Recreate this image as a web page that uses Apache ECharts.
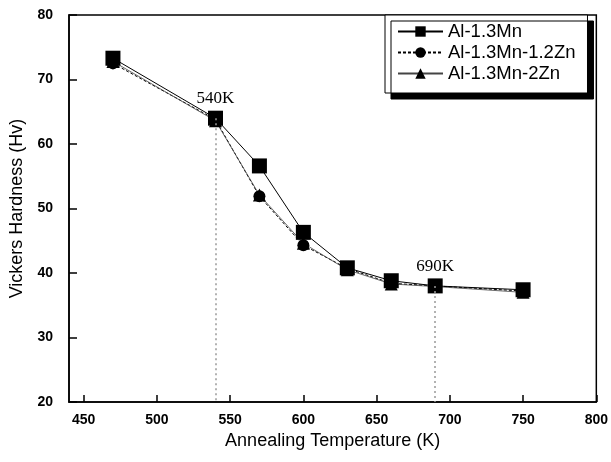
<!DOCTYPE html>
<html>
<head>
<meta charset="utf-8">
<script src="https://cdn.jsdelivr.net/npm/echarts@6/dist/echarts.min.js"></script>
<style>
  html, body { margin: 0; padding: 0; background: #fff; }
  #main { width: 611px; height: 462px; }
</style>
</head>
<body>
<div id="main"></div>
<script>
// annealing temperatures (K)
var temps = [470, 540, 570, 600, 630, 660, 690, 750];
// Vickers hardness (Hv)
var alMn = [73.3, 64.0, 56.6, 46.3, 40.8, 38.8, 38.0, 37.4];
var alMnZn12 = [72.5, 63.8, 51.9, 44.3, 40.7, 38.4, 38.0, 37.2];
var alMnZn2 = [72.8, 63.6, 52.1, 44.6, 40.5, 38.3, 37.9, 37.0];
var xTicks = [450, 500, 550, 600, 650, 700, 750, 800];
var guideTemps = [540, 690];

var font = '"Liberation Sans", Arial, sans-serif';

function pairs(vals) {
  return temps.map(function (t, i) { return [t, vals[i]]; });
}

// dotted drop lines from the Al-1.3Mn points down to the axis
var guides = guideTemps.map(function (t) {
  var v = alMn[temps.indexOf(t)];
  return [{ coord: [t, v], name: t + 'K' }, { coord: [t, 20] }];
});

var myChart = echarts.init(document.getElementById('main'));
myChart.setOption({
  animation: false,
  backgroundColor: '#fff',
  grid: {
    left: 69, right: 12, top: 15, bottom: 60,
    show: true, borderColor: '#000', borderWidth: 1.5
  },
  legend: {
    left: 385, top: 15,
    orient: 'vertical',
    data: ['Al-1.3Mn', 'Al-1.3Mn-1.2Zn', 'Al-1.3Mn-2Zn'],
    backgroundColor: '#fff',
    borderColor: '#000',
    borderWidth: 1,
    padding: [7, 12, 10, 12],
    itemWidth: 45,
    itemHeight: 13,
    itemGap: 2,
    shadowColor: '#000',
    shadowBlur: 0,
    shadowOffsetX: 6,
    shadowOffsetY: 6,
    textStyle: { fontFamily: font, fontSize: 18.5, color: '#000' }
  },
  xAxis: {
    type: 'value',
    min: 440, max: 800,
    name: 'Annealing Temperature (K)',
    nameLocation: 'middle',
    nameGap: 30,
    nameTextStyle: { fontFamily: font, fontSize: 18, color: '#000' },
    axisLine: { lineStyle: { color: '#000', width: 1.5 } },
    axisTick: { inside: true, length: 7, customValues: xTicks, lineStyle: { color: '#000', width: 1.5 } },
    axisLabel: { customValues: xTicks, fontFamily: font, fontSize: 14, fontWeight: 'bold', color: '#000', margin: 11 },
    splitLine: { show: false }
  },
  yAxis: {
    type: 'value',
    min: 20, max: 80, interval: 10,
    name: 'Vickers Hardness (Hv)',
    nameLocation: 'middle',
    nameGap: 37,
    nameTextStyle: { fontFamily: font, fontSize: 18, color: '#000' },
    axisLine: { lineStyle: { color: '#000', width: 1.5 } },
    axisTick: { inside: true, length: 8, lineStyle: { color: '#000', width: 1.5 } },
    axisLabel: { fontFamily: font, fontSize: 14, fontWeight: 'bold', color: '#000', margin: 16 },
    splitLine: { show: false }
  },
  series: [
    {
      name: 'Al-1.3Mn-1.2Zn',
      type: 'line',
      z: 2,
      data: pairs(alMnZn12),
      symbol: 'circle',
      symbolSize: 12,
      itemStyle: { color: '#000' },
      lineStyle: { color: '#000', width: 1, type: [3, 2] }
    },
    {
      name: 'Al-1.3Mn-2Zn',
      type: 'line',
      z: 2,
      data: pairs(alMnZn2),
      symbol: 'triangle',
      symbolSize: 13,
      itemStyle: { color: '#000' },
      lineStyle: { color: '#444', width: 0.8 }
    },
    {
      name: 'Al-1.3Mn',
      type: 'line',
      z: 3,
      data: pairs(alMn),
      symbol: 'rect',
      symbolSize: 15,
      itemStyle: { color: '#000' },
      lineStyle: { color: '#000', width: 1 },
      markLine: {
        silent: true,
        symbol: 'none',
        lineStyle: { color: '#999', type: [2, 3], width: 1.5 },
        label: {
          show: true,
          position: 'start',
          distance: 11,
          formatter: '{b}',
          fontFamily: '"Liberation Serif", "Times New Roman", serif',
          fontSize: 17,
          color: '#000'
        },
        data: guides
      }
    }
  ]
});
</script>
</body>
</html>
